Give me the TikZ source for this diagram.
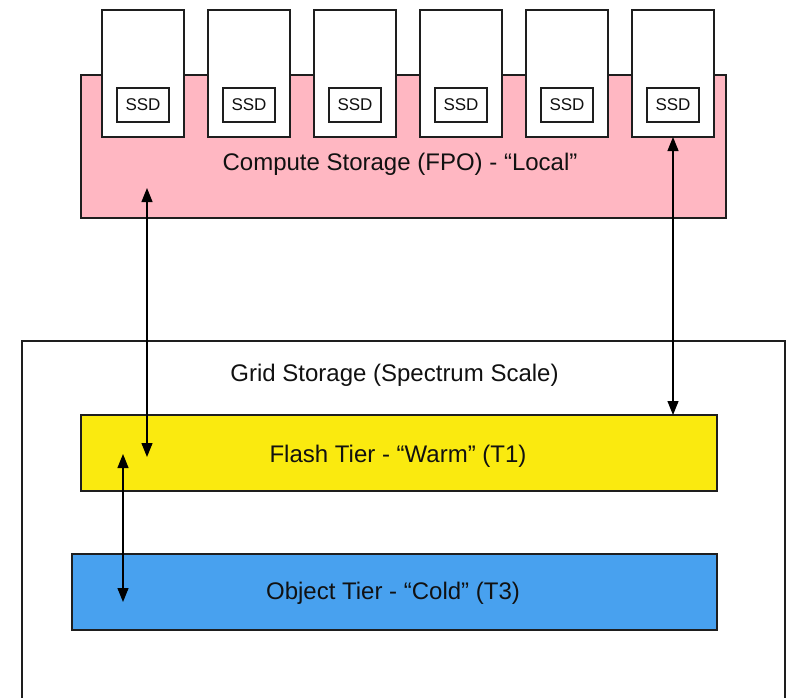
\documentclass[tikz,border=0pt]{standalone}
\usepackage{fontspec}
\setmainfont{Liberation Sans}
\usetikzlibrary{arrows.meta}
\definecolor{pinkc}{RGB}{255,183,194}
\definecolor{yellowc}{RGB}{250,234,15}
\definecolor{bluec}{RGB}{72,161,239}
\definecolor{linec}{RGB}{30,30,30}
\definecolor{textc}{RGB}{17,17,17}
\tikzset{
  box/.style={draw=linec, line width=1.2pt, inner sep=0pt, outer sep=0pt, text=textc},
  biglabel/.style={font=\fontsize{24}{28}\selectfont, text=textc, inner sep=0pt},
  drivebox/.style={box, fill=white, minimum width=82pt, minimum height=127pt, anchor=north west},
  ssdbox/.style={box, fill=white, minimum width=52pt, minimum height=34pt, font=\fontsize{17}{20}\selectfont},
  conn/.style={draw=black, line width=1.2pt, {Triangle[length=14pt,width=11pt]}-{Triangle[length=14pt,width=11pt]}}
}
\begin{document}
\begin{tikzpicture}[x=1pt,y=-1pt]
\clip (0,0) rectangle (792,697);
\fill[white] (0,0) rectangle (792,697);
% grid storage container (runs off the bottom edge)
\node[box, fill=white, minimum width=763pt, minimum height=400pt, anchor=north west] (grid) at (22,341) {};
\node[biglabel, anchor=base] (gridlabel) at (394.5,381) {Grid Storage (Spectrum Scale)};
% compute storage
\node[box, fill=pinkc, minimum width=645pt, minimum height=143pt, anchor=north west] (compute) at (81,75) {};
\node[biglabel, anchor=base] (computelabel) at (400,170) {Compute Storage (FPO) - “Local”};
\foreach \i in {1,...,6}{
  \pgfmathsetmacro{\xx}{102+106*(\i-1)}
  \pgfmathsetmacro{\cx}{143+106*(\i-1)}
  \node[drivebox] (drive\i) at (\xx,10) {};
  \node[ssdbox] (ssd\i) at (\cx,105) {SSD};
}
% tiers
\node[box, fill=yellowc, minimum width=636pt, minimum height=76pt, anchor=north west] (flash) at (81,415) {};
\node[biglabel, anchor=base] (flashlabel) at (398,462) {Flash Tier - “Warm” (T1)};
\node[box, fill=bluec, minimum width=645pt, minimum height=76pt, anchor=north west] (object) at (72,554) {};
\node[biglabel, anchor=base] (objectlabel) at (393,599) {Object Tier - “Cold” (T3)};
% connector end points
\coordinate (a1top) at (147,188);
\coordinate (a1bot) at (147,457);
\coordinate (a3top) at (123,454);
\coordinate (a3bot) at (123,602);
\draw[conn] (a1top) -- (a1bot);
\draw[conn] (drive6.south) -- (drive6.south |- flash.north);
\draw[conn] (a3top) -- (a3bot);
\end{tikzpicture}
\end{document}
